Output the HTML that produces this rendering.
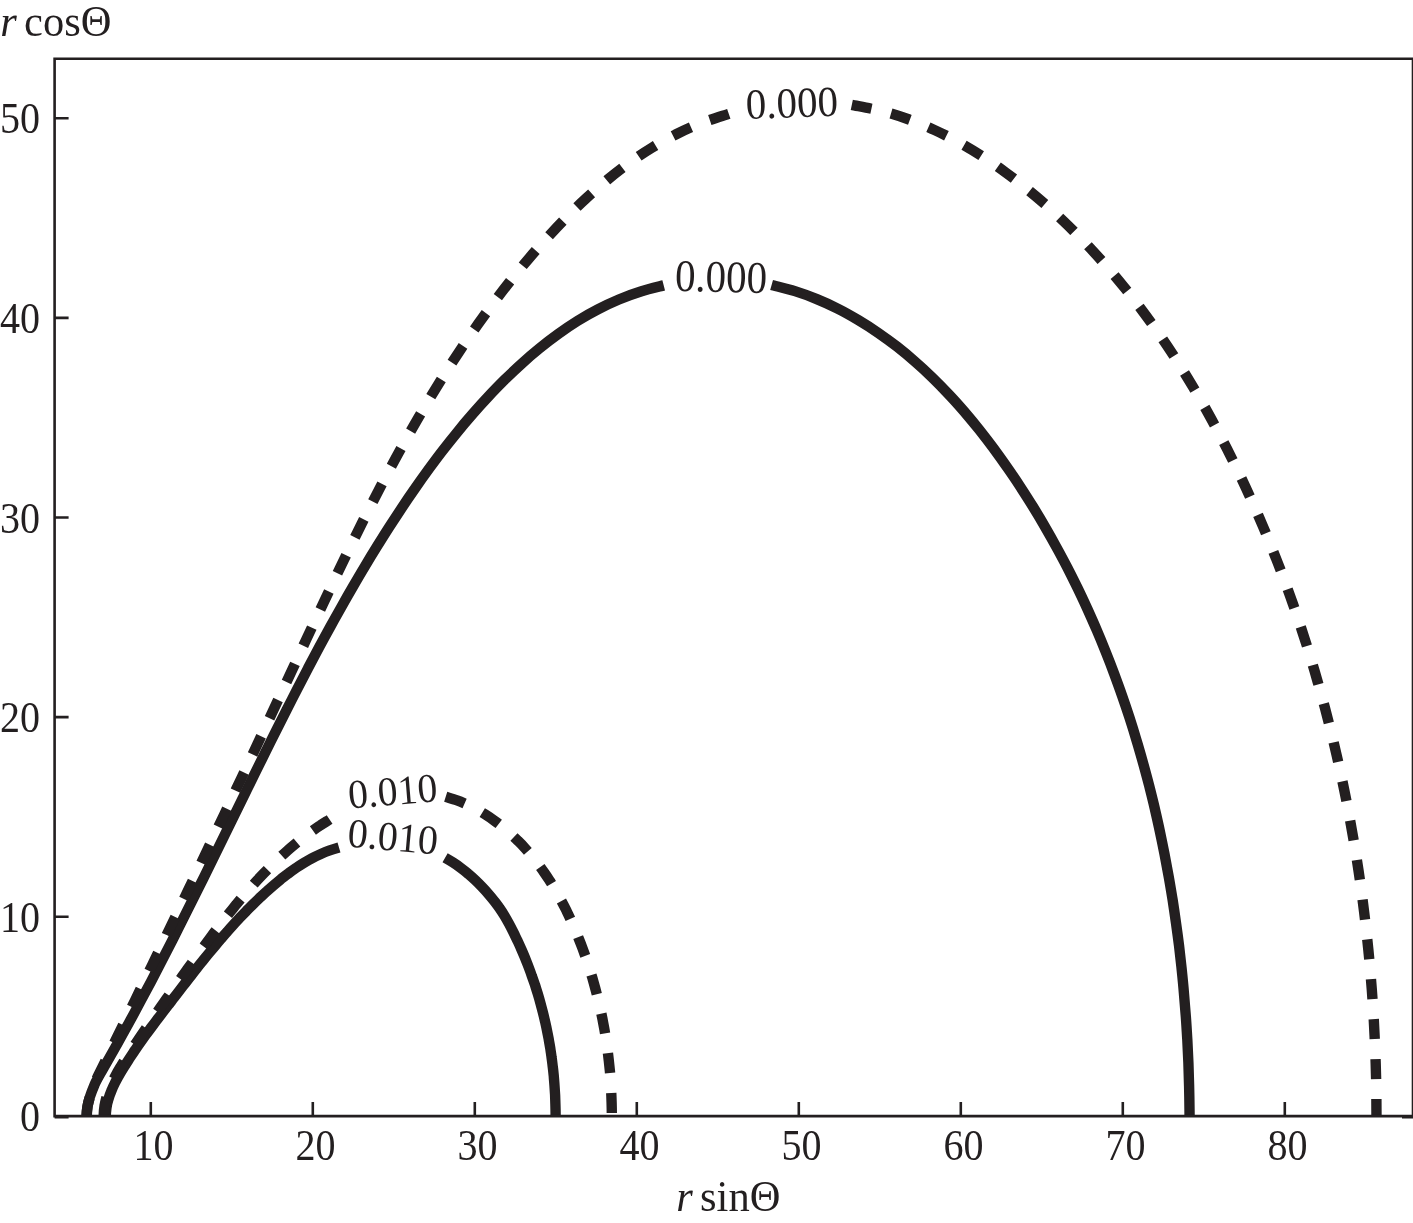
<!DOCTYPE html>
<html lang="en"><head><meta charset="utf-8"><title>r cos&Theta; vs r sin&Theta;</title>
<style>
html,body{margin:0;padding:0;background:#fff;}
body{width:1413px;height:1223px;overflow:hidden;position:relative;}
svg{position:absolute;left:0;top:0;display:block;will-change:transform;}
text{font-family:"Liberation Serif",serif;font-size:45px;fill:#231f20;}
.s{fill:none;stroke:#231f20;stroke-width:10.4;stroke-linecap:butt;stroke-linejoin:round;}
.d{fill:none;stroke:#231f20;stroke-width:10.4;stroke-linecap:butt;stroke-linejoin:round;stroke-dasharray:20 20;}
.a{fill:none;stroke:#231f20;stroke-width:2.6;stroke-linecap:butt;}
</style></head><body>
<svg width="1413" height="1223" viewBox="0 0 1413 1223">
<rect x="0" y="0" width="1413" height="1223" fill="#fff"/>
<defs><clipPath id="c"><rect x="54.6" y="58.8" width="1363.4" height="1057.3"/></clipPath></defs>
<g clip-path="url(#c)">
<path class="s" d="M663.7 285.4C659.9 286.4 648.3 289.1 640.8 291.5C633.3 293.8 626.1 296.5 618.9 299.5C611.7 302.5 604.7 305.8 597.9 309.4C591.0 312.9 584.2 316.8 577.6 320.9C571.0 325.0 564.6 329.4 558.2 334.0C551.9 338.5 545.7 343.3 539.6 348.3C533.5 353.2 527.6 358.3 521.8 363.6C515.9 368.9 510.2 374.3 504.6 379.8C499.1 385.3 493.6 390.9 488.3 396.6C482.9 402.3 477.7 408.1 472.6 414.0C467.4 419.9 462.4 425.8 457.5 431.9C452.6 437.9 447.7 444.0 443.0 450.1C438.2 456.3 433.6 462.5 429.0 468.8C424.4 475.1 419.9 481.4 415.5 487.8C411.0 494.2 406.6 500.6 402.3 507.1C398.0 513.6 393.7 520.1 389.5 526.6C385.3 533.1 381.2 539.7 377.1 546.3C373.0 552.9 368.9 559.6 364.9 566.3C360.9 572.9 357.0 579.6 353.1 586.4C349.2 593.1 345.3 599.9 341.5 606.7C337.7 613.4 333.9 620.3 330.1 627.1C326.4 633.9 322.7 640.8 319.0 647.6C315.3 654.5 311.6 661.4 308.0 668.3C304.4 675.2 300.8 682.1 297.2 689.1C293.7 696.0 290.1 703.0 286.6 709.9C283.0 716.9 279.5 723.9 276.0 730.8C272.5 737.8 269.1 744.8 265.6 751.8C262.1 758.8 258.7 765.8 255.2 772.8C251.8 779.7 248.3 786.7 244.9 793.7C241.4 800.7 238.0 807.7 234.6 814.7C231.1 821.7 227.7 828.7 224.3 835.7C220.9 842.7 217.4 849.7 214.0 856.7C210.5 863.7 207.1 870.7 203.7 877.7C200.2 884.6 196.7 891.6 193.3 898.6C189.8 905.5 186.3 912.5 182.8 919.5C179.3 926.4 175.8 933.4 172.3 940.3C168.8 947.2 165.2 954.1 161.6 961.1C158.1 968.0 154.5 974.9 150.9 981.8C147.3 988.6 143.6 995.5 139.9 1002.4C136.3 1009.2 132.6 1016.1 128.9 1022.9C125.1 1029.7 121.4 1036.5 117.6 1043.3C113.8 1050.1 109.9 1056.9 106.0 1063.8C102.2 1070.6 97.7 1077.4 94.6 1084.5C91.6 1091.6 88.5 1098.9 87.5 1106.4C86.4 1113.8 86.7 1121.9 88.2 1129.4C89.7 1136.8 93.1 1144.2 96.5 1151.2C99.9 1158.3 105.6 1166.6 108.4 1171.7C111.2 1176.8 112.6 1180.2 113.5 1181.9"/>
<path class="s" d="M771.6 284.9C775.5 286.0 787.4 288.7 794.9 291.1C802.4 293.4 809.6 296.1 816.8 299.1C824.0 302.0 831.1 305.3 838.1 308.8C845.1 312.3 851.9 316.2 858.6 320.2C865.3 324.2 871.9 328.4 878.3 332.9C884.7 337.3 891.0 341.9 897.1 346.7C903.2 351.5 909.2 356.5 915.0 361.6C920.9 366.7 926.6 372.0 932.2 377.4C937.8 382.8 943.2 388.4 948.5 394.1C953.9 399.7 959.1 405.6 964.2 411.5C969.2 417.4 974.2 423.4 979.1 429.5C983.9 435.6 988.7 441.8 993.4 448.1C998.0 454.4 1002.6 460.7 1007.0 467.2C1011.5 473.6 1015.9 480.0 1020.1 486.5C1024.4 493.1 1028.6 499.6 1032.7 506.3C1036.8 512.9 1040.8 519.5 1044.7 526.3C1048.6 533.0 1052.4 539.7 1056.1 546.6C1059.9 553.4 1063.5 560.2 1067.1 567.1C1070.6 574.0 1074.1 581.0 1077.5 587.9C1080.9 594.9 1084.2 602.0 1087.4 609.0C1090.6 616.1 1093.8 623.2 1096.8 630.3C1099.9 637.5 1102.8 644.6 1105.7 651.9C1108.6 659.1 1111.4 666.3 1114.1 673.6C1116.8 680.9 1119.5 688.2 1122.0 695.5C1124.6 702.9 1127.1 710.3 1129.5 717.7C1131.9 725.1 1134.2 732.5 1136.4 740.0C1138.7 747.4 1140.8 754.9 1142.9 762.4C1145.0 769.9 1147.0 777.4 1149.0 785.0C1150.9 792.6 1152.8 800.1 1154.6 807.7C1156.3 815.3 1158.1 822.9 1159.7 830.6C1161.3 838.2 1162.9 845.9 1164.4 853.5C1165.9 861.2 1167.3 868.9 1168.7 876.6C1170.1 884.3 1171.3 892.0 1172.6 899.7C1173.8 907.4 1174.9 915.2 1176.0 922.9C1177.1 930.7 1178.1 938.4 1179.1 946.2C1180.0 953.9 1180.9 961.7 1181.7 969.5C1182.5 977.2 1183.3 985.0 1183.9 992.8C1184.6 1000.6 1185.2 1008.4 1185.8 1016.1C1186.4 1023.9 1186.8 1031.7 1187.3 1039.5C1187.7 1047.3 1188.1 1055.1 1188.4 1062.8C1188.7 1070.6 1188.9 1078.4 1189.1 1086.2C1189.3 1093.9 1189.4 1101.7 1189.5 1109.4C1189.6 1117.2 1189.6 1125.0 1189.5 1132.7C1189.5 1140.4 1189.4 1148.2 1189.2 1155.9C1189.1 1163.6 1188.9 1171.3 1188.6 1179.0C1188.3 1186.7 1188.0 1194.4 1187.6 1202.0C1187.2 1209.7 1186.7 1218.6 1186.3 1224.9C1185.9 1231.3 1185.5 1237.6 1185.3 1240.2"/>
<path class="s" d="M339.0 847.5C337.3 848.0 332.1 849.6 329.0 850.7C325.9 851.8 323.1 853.0 320.3 854.2C317.4 855.5 314.6 856.9 311.8 858.4C309.1 859.8 306.4 861.4 303.7 863.0C301.1 864.6 298.5 866.3 295.9 868.0C293.3 869.8 290.8 871.6 288.3 873.5C285.8 875.3 283.4 877.3 280.9 879.2C278.5 881.2 276.1 883.2 273.7 885.2C271.4 887.2 269.0 889.3 266.7 891.4C264.4 893.4 262.1 895.6 259.8 897.7C257.6 899.8 255.3 902.0 253.1 904.2C250.9 906.4 248.7 908.6 246.5 910.8C244.3 913.1 242.1 915.3 240.0 917.6C237.9 919.9 235.7 922.2 233.6 924.5C231.5 926.8 229.4 929.1 227.4 931.5C225.3 933.8 223.2 936.2 221.2 938.6C219.1 941.0 217.1 943.4 215.1 945.8C213.1 948.2 211.1 950.6 209.1 953.0C207.1 955.4 205.1 957.9 203.2 960.3C201.2 962.8 199.2 965.2 197.3 967.7C195.3 970.1 193.4 972.6 191.5 975.1C189.5 977.5 187.6 980.0 185.7 982.5C183.8 985.0 181.9 987.4 180.0 989.9C178.1 992.4 176.2 994.9 174.3 997.3C172.3 999.8 170.5 1002.3 168.6 1004.7C166.7 1007.2 164.8 1009.7 162.9 1012.1C161.0 1014.6 159.1 1017.0 157.2 1019.5C155.4 1022.0 153.5 1024.5 151.6 1027.0C149.8 1029.4 148.0 1031.9 146.1 1034.4C144.3 1037.0 142.5 1039.5 140.7 1042.0C138.9 1044.6 137.1 1047.1 135.3 1049.7C133.6 1052.3 131.8 1054.9 130.1 1057.5C128.4 1060.2 126.6 1062.8 125.0 1065.5C123.3 1068.2 121.6 1070.9 120.0 1073.7C118.4 1076.4 116.9 1079.2 115.4 1082.0C114.0 1084.8 112.6 1087.7 111.5 1090.6C110.3 1093.4 109.2 1096.3 108.4 1099.3C107.5 1102.2 106.8 1105.2 106.4 1108.2C106.0 1111.2 105.8 1114.3 105.8 1117.3C105.9 1120.4 106.3 1123.5 106.8 1126.6C107.3 1129.7 108.2 1132.8 109.1 1135.8C110.1 1138.8 111.3 1141.8 112.6 1144.7C113.9 1147.6 115.3 1150.4 116.9 1153.2C118.4 1156.0 120.1 1158.7 121.8 1161.4C123.5 1164.1 125.3 1166.7 127.0 1169.3C128.7 1171.9 130.8 1174.8 132.2 1176.9C133.6 1179.0 134.9 1181.1 135.5 1181.9"/>
<path class="s" d="M445.1 857.8C446.5 858.6 450.7 861.0 453.3 862.7C456.0 864.4 458.5 866.2 461.0 868.1C463.6 870.0 466.0 871.9 468.4 874.0C470.8 876.0 473.1 878.1 475.4 880.3C477.6 882.4 479.8 884.6 482.0 886.9C484.2 889.2 486.3 891.4 488.3 893.8C490.3 896.1 492.3 898.5 494.2 900.9C496.1 903.4 498.0 905.8 499.7 908.4C501.5 910.9 503.1 913.5 504.7 916.2C506.3 918.9 507.8 921.6 509.3 924.3C510.8 927.1 512.2 929.9 513.6 932.7C515.0 935.5 516.3 938.3 517.7 941.1C519.0 943.9 520.3 946.8 521.5 949.6C522.8 952.5 524.0 955.4 525.2 958.3C526.3 961.2 527.5 964.1 528.6 967.0C529.7 969.9 530.8 972.8 531.8 975.8C532.9 978.7 533.9 981.7 534.9 984.6C535.8 987.6 536.8 990.6 537.7 993.6C538.6 996.6 539.5 999.6 540.3 1002.6C541.1 1005.6 541.9 1008.6 542.7 1011.6C543.5 1014.7 544.2 1017.7 544.9 1020.7C545.6 1023.8 546.3 1026.8 546.9 1029.9C547.5 1033.0 548.1 1036.0 548.7 1039.1C549.2 1042.2 549.8 1045.3 550.3 1048.4C550.7 1051.4 551.2 1054.5 551.6 1057.6C552.1 1060.7 552.4 1063.8 552.8 1067.0C553.2 1070.1 553.5 1073.2 553.8 1076.3C554.0 1079.4 554.3 1082.5 554.5 1085.7C554.7 1088.8 554.9 1091.9 555.1 1095.0C555.2 1098.1 555.3 1101.3 555.4 1104.4C555.5 1107.5 555.6 1110.7 555.6 1113.8C555.6 1116.9 555.6 1120.1 555.5 1123.2C555.5 1126.3 555.4 1129.4 555.3 1132.6C555.1 1135.7 555.0 1138.8 554.8 1142.0C554.6 1145.1 554.4 1148.2 554.1 1151.3C553.9 1154.4 553.6 1157.5 553.3 1160.7C552.9 1163.8 552.6 1166.9 552.2 1170.0C551.8 1173.1 551.4 1176.2 550.9 1179.3C550.4 1182.4 550.0 1185.4 549.4 1188.5C548.9 1191.6 548.3 1194.7 547.7 1197.7C547.2 1200.8 546.4 1204.4 545.9 1206.9C545.3 1209.5 544.7 1212.0 544.5 1213.0"/>
<path class="d" d="M728.8 113.8C724.1 115.4 709.7 119.8 700.9 123.2C692.0 126.7 683.9 130.4 675.7 134.5C667.5 138.6 659.5 143.1 651.7 147.9C643.8 152.7 636.2 157.9 628.8 163.2C621.3 168.6 614.1 174.3 607.0 180.1C599.9 186.0 592.9 192.1 586.1 198.4C579.3 204.6 572.7 211.1 566.2 217.7C559.7 224.3 553.4 231.0 547.1 237.8C540.9 244.6 534.8 251.5 528.8 258.6C522.8 265.6 517.0 272.7 511.2 279.9C505.5 287.1 499.8 294.4 494.3 301.8C488.8 309.1 483.4 316.6 478.0 324.1C472.7 331.6 467.5 339.2 462.4 346.8C457.3 354.5 452.2 362.2 447.3 370.0C442.4 377.7 437.5 385.5 432.7 393.4C428.0 401.3 423.3 409.2 418.7 417.1C414.1 425.1 409.5 433.1 405.0 441.1C400.6 449.2 396.1 457.2 391.8 465.4C387.4 473.5 383.1 481.6 378.9 489.8C374.7 498.0 370.5 506.2 366.3 514.4C362.2 522.6 358.1 530.9 354.0 539.2C349.9 547.5 345.9 555.8 341.9 564.1C337.9 572.4 333.9 580.7 330.0 589.0C326.0 597.4 322.1 605.7 318.2 614.1C314.2 622.4 310.3 630.8 306.4 639.1C302.5 647.5 298.7 655.9 294.8 664.2C290.9 672.6 287.0 680.9 283.1 689.3C279.2 697.6 275.3 705.9 271.4 714.3C267.5 722.6 263.6 730.9 259.7 739.3C255.8 747.6 251.9 755.9 248.0 764.2C244.1 772.5 240.1 780.8 236.2 789.1C232.3 797.5 228.3 805.8 224.4 814.1C220.5 822.4 216.5 830.7 212.6 839.0C208.6 847.3 204.7 855.6 200.7 863.9C196.8 872.2 192.8 880.5 188.8 888.8C184.9 897.1 180.9 905.4 176.9 913.7C172.9 922.0 168.9 930.3 164.9 938.6C160.9 946.9 156.9 955.2 152.9 963.5C148.9 971.8 144.8 980.1 140.8 988.4C136.8 996.7 132.7 1005.1 128.7 1013.4C124.6 1021.7 120.6 1030.0 116.5 1038.3C112.4 1046.7 108.2 1055.0 104.3 1063.3C100.3 1071.7 95.6 1080.0 92.7 1088.5C89.7 1097.0 86.9 1105.5 86.6 1114.3C86.3 1123.1 88.2 1132.4 90.8 1141.2C93.4 1150.0 98.9 1160.3 102.5 1167.3C106.0 1174.3 110.4 1180.4 112.0 1183.0"/>
<path class="d" d="M851.8 104.9C857.0 106.0 873.2 108.8 882.7 111.3C892.3 113.7 900.5 116.4 909.1 119.5C917.8 122.7 926.3 126.2 934.7 130.1C943.0 133.9 951.2 138.1 959.3 142.6C967.3 147.0 975.2 151.8 983.0 156.8C990.8 161.8 998.4 167.1 1005.8 172.6C1013.3 178.0 1020.6 183.7 1027.7 189.6C1034.9 195.4 1041.9 201.4 1048.8 207.5C1055.6 213.7 1062.4 220.0 1068.9 226.4C1075.5 232.8 1082.0 239.4 1088.2 246.0C1094.5 252.7 1100.7 259.5 1106.7 266.4C1112.8 273.4 1118.6 280.4 1124.4 287.5C1130.2 294.7 1135.8 301.9 1141.3 309.3C1146.8 316.6 1152.2 324.1 1157.5 331.6C1162.7 339.2 1167.9 346.8 1172.9 354.5C1177.9 362.3 1182.8 370.1 1187.6 377.9C1192.4 385.8 1197.1 393.8 1201.7 401.8C1206.3 409.8 1210.7 417.9 1215.1 426.0C1219.5 434.2 1223.7 442.4 1227.9 450.6C1232.1 458.9 1236.1 467.2 1240.1 475.5C1244.1 483.9 1247.9 492.2 1251.7 500.7C1255.5 509.1 1259.2 517.5 1262.8 526.0C1266.4 534.5 1269.9 543.0 1273.3 551.6C1276.7 560.1 1280.1 568.7 1283.3 577.4C1286.5 586.0 1289.7 594.6 1292.7 603.3C1295.8 612.0 1298.7 620.7 1301.6 629.5C1304.5 638.2 1307.3 647.0 1310.0 655.8C1312.7 664.5 1315.3 673.4 1317.8 682.2C1320.4 691.1 1322.8 699.9 1325.2 708.8C1327.5 717.7 1329.8 726.6 1332.0 735.6C1334.2 744.5 1336.3 753.5 1338.3 762.5C1340.3 771.4 1342.3 780.4 1344.1 789.4C1346.0 798.5 1347.7 807.5 1349.4 816.6C1351.1 825.6 1352.7 834.7 1354.2 843.8C1355.8 852.8 1357.2 861.9 1358.6 871.1C1359.9 880.2 1361.2 889.3 1362.4 898.4C1363.6 907.6 1364.7 916.7 1365.8 925.9C1366.8 935.0 1367.8 944.2 1368.7 953.4C1369.6 962.5 1370.4 971.7 1371.1 980.9C1371.9 990.1 1372.5 999.3 1373.1 1008.5C1373.7 1017.7 1374.2 1026.9 1374.6 1036.1C1375.0 1045.3 1375.4 1054.5 1375.7 1063.7C1376.0 1073.0 1376.2 1082.2 1376.3 1091.4C1376.4 1100.6 1376.5 1109.8 1376.5 1119.0C1376.5 1128.3 1376.4 1137.5 1376.2 1146.7C1376.1 1155.9 1375.8 1165.1 1375.5 1174.3C1375.2 1183.5 1374.9 1192.7 1374.4 1201.9C1374.0 1211.1 1373.3 1222.5 1372.9 1229.4C1372.5 1236.3 1372.1 1240.9 1372.0 1243.2"/>
<path class="d" d="M329.6 819.5C328.1 820.5 323.3 823.4 320.3 825.4C317.3 827.3 314.5 829.3 311.6 831.4C308.7 833.4 305.9 835.5 303.1 837.7C300.3 839.8 297.6 842.0 294.9 844.3C292.2 846.5 289.5 848.8 286.9 851.1C284.3 853.4 281.7 855.8 279.1 858.1C276.6 860.5 274.1 863.0 271.6 865.4C269.1 867.9 266.6 870.4 264.2 872.9C261.8 875.4 259.4 877.9 257.0 880.5C254.6 883.1 252.3 885.7 250.0 888.3C247.7 890.9 245.4 893.6 243.1 896.3C240.8 898.9 238.6 901.6 236.3 904.3C234.1 907.0 231.9 909.8 229.7 912.5C227.5 915.2 225.4 918.0 223.2 920.8C221.0 923.5 218.9 926.3 216.8 929.1C214.6 931.9 212.5 934.7 210.4 937.5C208.3 940.3 206.2 943.2 204.2 946.0C202.1 948.8 200.0 951.6 197.9 954.5C195.9 957.3 193.8 960.1 191.8 963.0C189.7 965.8 187.7 968.7 185.7 971.5C183.6 974.4 181.6 977.2 179.6 980.1C177.6 982.9 175.6 985.8 173.6 988.6C171.6 991.5 169.6 994.3 167.6 997.2C165.6 1000.0 163.6 1002.9 161.6 1005.8C159.6 1008.6 157.7 1011.5 155.7 1014.3C153.7 1017.2 151.8 1020.0 149.8 1022.9C147.8 1025.7 145.9 1028.6 143.9 1031.5C141.9 1034.4 140.0 1037.2 138.0 1040.2C136.0 1043.1 134.0 1046.0 132.0 1049.0C130.1 1051.9 128.0 1054.9 126.1 1057.9C124.1 1060.9 122.2 1064.0 120.4 1067.1C118.5 1070.1 116.8 1073.2 115.1 1076.4C113.5 1079.5 111.9 1082.7 110.6 1085.9C109.2 1089.1 108.0 1092.3 107.0 1095.5C106.0 1098.8 105.2 1102.1 104.6 1105.4C104.1 1108.7 103.7 1112.0 103.7 1115.4C103.6 1118.8 103.9 1122.2 104.4 1125.6C104.8 1129.0 105.6 1132.4 106.5 1135.8C107.5 1139.2 108.7 1142.6 110.0 1145.9C111.3 1149.3 112.8 1152.6 114.5 1155.8C116.1 1159.0 117.9 1162.2 119.8 1165.2C121.7 1168.3 123.7 1171.3 125.7 1174.1C127.8 1176.9 130.8 1180.7 132.1 1182.3C133.3 1183.8 132.9 1183.3 133.1 1183.5"/>
<path class="d" d="M445.7 796.8C447.6 797.4 453.5 799.1 457.1 800.4C460.6 801.6 463.7 803.0 466.9 804.4C470.1 805.9 473.3 807.5 476.4 809.3C479.5 811.0 482.6 812.8 485.6 814.7C488.6 816.6 491.5 818.6 494.4 820.7C497.2 822.7 500.0 824.9 502.7 827.1C505.4 829.3 508.1 831.5 510.7 833.9C513.2 836.2 515.8 838.6 518.2 841.1C520.7 843.5 523.1 846.0 525.4 848.6C527.7 851.2 530.0 853.8 532.2 856.5C534.4 859.2 536.5 861.9 538.6 864.7C540.7 867.5 542.7 870.3 544.7 873.2C546.7 876.0 548.6 879.0 550.5 881.9C552.3 884.9 554.1 887.9 555.9 890.9C557.7 893.9 559.4 897.0 561.0 900.1C562.7 903.2 564.3 906.3 565.9 909.5C567.4 912.6 569.0 915.8 570.4 919.0C571.9 922.2 573.3 925.4 574.7 928.7C576.1 931.9 577.4 935.2 578.7 938.5C580.0 941.7 581.3 945.0 582.5 948.3C583.7 951.6 584.9 954.9 586.1 958.3C587.2 961.6 588.3 964.9 589.4 968.3C590.4 971.6 591.5 975.0 592.5 978.3C593.4 981.7 594.4 985.1 595.3 988.5C596.2 991.9 597.1 995.2 597.9 998.6C598.7 1002.0 599.5 1005.5 600.3 1008.9C601.1 1012.3 601.8 1015.7 602.5 1019.1C603.1 1022.6 603.8 1026.0 604.4 1029.4C605.0 1032.9 605.6 1036.3 606.1 1039.8C606.6 1043.2 607.1 1046.7 607.6 1050.2C608.0 1053.6 608.4 1057.1 608.8 1060.6C609.2 1064.0 609.5 1067.5 609.9 1071.0C610.2 1074.5 610.4 1078.0 610.7 1081.5C610.9 1084.9 611.1 1088.4 611.2 1091.9C611.4 1095.4 611.5 1098.9 611.6 1102.4C611.7 1105.9 611.8 1109.4 611.8 1112.9C611.8 1116.4 611.8 1119.9 611.7 1123.4C611.6 1126.9 611.5 1130.4 611.4 1133.9C611.3 1137.4 611.1 1140.9 610.9 1144.4C610.7 1147.9 610.5 1151.4 610.2 1154.9C609.9 1158.4 609.6 1161.8 609.3 1165.3C608.9 1168.8 608.6 1172.3 608.2 1175.8C607.7 1179.3 607.3 1182.8 606.8 1186.2C606.3 1189.7 605.8 1193.2 605.2 1196.7C604.7 1200.1 603.8 1205.0 603.5 1207.0C603.1 1209.1 603.2 1208.5 603.2 1208.8"/>
</g>
<path class="a" d="M54.6 58.8H1413V1116.1H54.6Z"/>
<path class="a" d="M150.8 1116.1V1102.1M312.8 1116.1V1102.1M474.8 1116.1V1102.1M636.8 1116.1V1102.1M798.8 1116.1V1102.1M960.8 1116.1V1102.1M1122.8 1116.1V1102.1M1284.8 1116.1V1102.1M54.6 118.3H68.6M54.6 317.9H68.6M54.6 517.5H68.6M54.6 717.1H68.6M54.6 916.7H68.6"/>
<path class="a" d="M54.6 1117.1H68.6M1402 1117.1H1415"/>
<text transform="translate(153.4 1159.6) scale(0.89 1)" text-anchor="middle">10</text>
<text transform="translate(315.4 1159.6) scale(0.89 1)" text-anchor="middle">20</text>
<text transform="translate(477.4 1159.6) scale(0.89 1)" text-anchor="middle">30</text>
<text transform="translate(639.4 1159.6) scale(0.89 1)" text-anchor="middle">40</text>
<text transform="translate(801.4 1159.6) scale(0.89 1)" text-anchor="middle">50</text>
<text transform="translate(963.4 1159.6) scale(0.89 1)" text-anchor="middle">60</text>
<text transform="translate(1125.4 1159.6) scale(0.89 1)" text-anchor="middle">70</text>
<text transform="translate(1287.4 1159.6) scale(0.89 1)" text-anchor="middle">80</text>
<text transform="translate(40 133.3) scale(0.89 1)" text-anchor="end">50</text>
<text transform="translate(40 332.9) scale(0.89 1)" text-anchor="end">40</text>
<text transform="translate(40 532.5) scale(0.89 1)" text-anchor="end">30</text>
<text transform="translate(40 732.1) scale(0.89 1)" text-anchor="end">20</text>
<text transform="translate(40 931.7) scale(0.89 1)" text-anchor="end">10</text>
<text transform="translate(40 1131.1) scale(0.89 1)" text-anchor="end">0</text>
<text transform="translate(0.3 35.9) scale(0.945 1)" text-anchor="start"><tspan font-style="italic">r</tspan><tspan dx="-3.6"> cos&#920;</tspan></text>
<text transform="translate(676.3 1210.6) scale(0.945 1)" text-anchor="start"><tspan font-style="italic">r</tspan><tspan dx="-3.6"> sin&#920;</tspan></text>
<text style="font-size:42.98px" transform="translate(792.3 117.4) rotate(-2.1) scale(0.955 1)" text-anchor="middle">0.000</text>
<text style="font-size:45px" transform="translate(720.7 291.9) rotate(1.5) scale(0.91 1)" text-anchor="middle">0.000</text>
<text style="font-size:41.04px" transform="translate(393.7 804.9) rotate(-4.7) scale(0.968 1)" text-anchor="middle">0.010</text>
<text style="font-size:41.4px" transform="translate(391.8 850.5) rotate(5) scale(0.97 1)" text-anchor="middle">0.010</text>
</svg></body></html>
